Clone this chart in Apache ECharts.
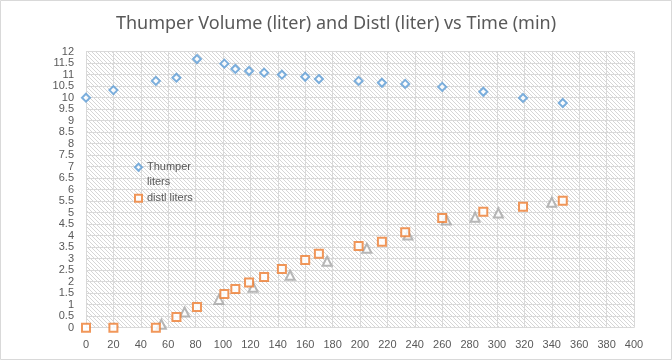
<!DOCTYPE html>
<html>
<head>
<meta charset="utf-8">
<script src="https://cdn.jsdelivr.net/npm/echarts@6/dist/echarts.min.js"></script>
<style>
html,body{margin:0;padding:0;background:#fff;}
#main{width:672px;height:360px;}
</style>
</head>
<body>
<div id="main"></div>
<script>
// ---- data ----
const titleText = 'Thumper Volume (liter) and Distl (liter) vs Time (min)';
const seriesNames = ['Thumper liters', 'distl liters', 'Series3'];
const time = [0, 20, 51, 66, 81, 101, 109, 119, 130, 143, 160, 170, 199, 216, 233, 260, 290, 319, 348];
const thumper = [10.0, 10.33, 10.73, 10.87, 11.68, 11.48, 11.25, 11.16, 11.09, 11.0, 10.91, 10.81, 10.73, 10.65, 10.6, 10.47, 10.26, 9.99, 9.77];
const distl = [0, 0, 0, 0.47, 0.9, 1.47, 1.68, 1.96, 2.2, 2.55, 2.94, 3.22, 3.55, 3.74, 4.15, 4.77, 5.04, 5.26, 5.52];
const time3 = [55, 72, 97, 122, 149, 176, 205, 235, 263, 284, 301, 340];
const series3 = [0.15, 0.68, 1.23, 1.76, 2.28, 2.89, 3.45, 4.03, 4.68, 4.8, 4.99, 5.45];

// ---- hatch pattern ----
const pc = document.createElement('canvas');
pc.width = 4; pc.height = 4;
const pctx = pc.getContext('2d');
pctx.fillStyle = '#ffffff';
pctx.fillRect(0, 0, 4, 4);
pctx.fillStyle = '#d6d6d6';
for (let i = 0; i < 4; i++) pctx.fillRect(i, i, 1, 1);

const zip = (xs, ys) => xs.map((x, i) => [x, ys[i]]);

const chart = echarts.init(document.getElementById('main'), null, {renderer: 'canvas'});
const axisLabelStyle = {color: '#595959', fontSize: 11, fontFamily: 'Liberation Sans, Arial, sans-serif'};
const legendText = {color: '#595959', fontSize: 11, lineHeight: 14.5, fontFamily: 'Liberation Sans, Arial, sans-serif'};
chart.setOption({
  animation: false,
  backgroundColor: '#fff',
  title: {
    text: titleText,
    left: 'center',
    top: 10,
    textStyle: {color: '#595959', fontSize: 18, fontWeight: 'normal', fontFamily: 'Noto Sans, sans-serif'}
  },
  graphic: [{
    type: 'rect', silent: true, z: -10,
    shape: {x: 0.5, y: 0.5, width: 671, height: 359},
    style: {fill: 'none', stroke: '#d9d9d9', lineWidth: 1}
  }],
  legend: [{
    data: [seriesNames[0]],
    orient: 'vertical',
    left: 134,
    top: 145.5,
    padding: 0,
    itemWidth: 7,
    itemHeight: 7,
    formatter: () => ' \nThumper\nliters',
    textStyle: legendText
  }, {
    data: [seriesNames[1]],
    orient: 'vertical',
    left: 134,
    top: 191,
    padding: 0,
    itemWidth: 7,
    itemHeight: 7,
    textStyle: legendText
  }],
  grid: {
    left: 86, right: 38, top: 51.7, bottom: 32.3,
    show: true,
    borderWidth: 0,
    backgroundColor: {image: pc, repeat: 'repeat'}
  },
  xAxis: {
    type: 'value', min: 0, max: 400, interval: 20,
    axisLine: {show: false}, axisTick: {show: false},
    axisLabel: Object.assign({margin: 12}, axisLabelStyle),
    splitLine: {show: true, lineStyle: {color: '#d9d9d9', width: 1}}
  },
  yAxis: {
    type: 'value', min: 0, max: 12, interval: 0.5,
    axisLine: {show: false}, axisTick: {show: false},
    axisLabel: Object.assign({margin: 12}, axisLabelStyle),
    splitLine: {show: true, lineStyle: {color: '#d9d9d9', width: 1}}
  },
  series: [
    {
      name: seriesNames[0], type: 'scatter', symbol: 'diamond', symbolSize: 8,
      itemStyle: {color: '#fff', borderColor: '#5B9BD5', borderWidth: 2},
      data: zip(time, thumper), z: 3
    },
    {
      name: seriesNames[1], type: 'scatter', symbol: 'rect', symbolSize: 8,
      itemStyle: {color: '#fff', borderColor: '#ED7D31', borderWidth: 2},
      data: zip(time, distl), z: 4
    },
    {
      name: seriesNames[2], type: 'scatter', symbol: 'triangle', symbolSize: 9,
      itemStyle: {color: '#fff', borderColor: '#A5A5A5', borderWidth: 2},
      data: zip(time3, series3), z: 3
    }
  ]
});
</script>
</body>
</html>
